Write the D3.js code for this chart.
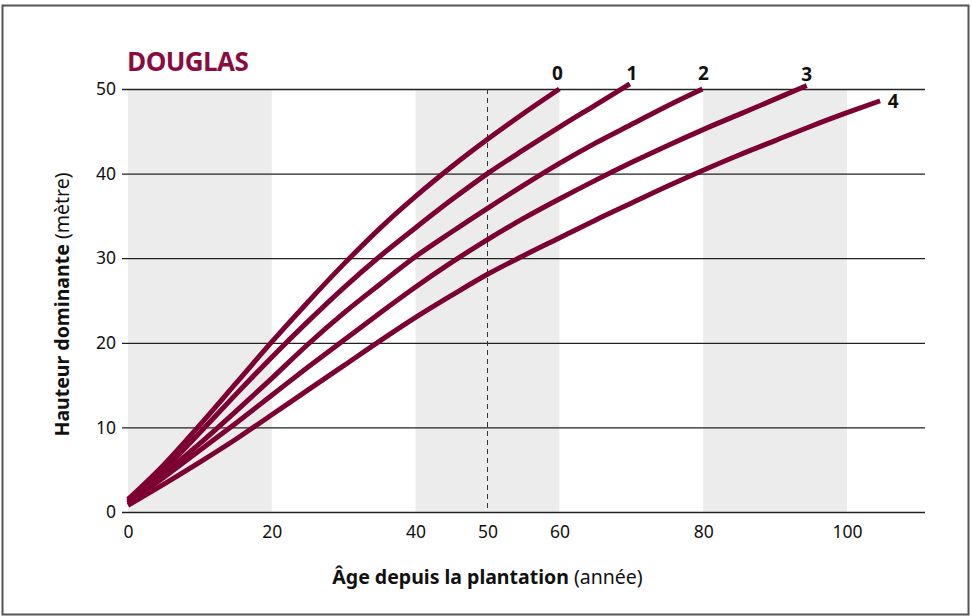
<!DOCTYPE html>
<html>
<head>
<meta charset="utf-8">
<script src="https://cdn.jsdelivr.net/npm/d3@7/dist/d3.min.js"></script>
<style>
  body { margin: 0; background: #fff; }
  svg { font-family: "Noto Sans", "Open Sans", sans-serif; }
</style>
</head>
<body>
<div id="chart"></div>
<script>
// classes de fertilité 0..4, hauteur dominante (m) selon l'âge (années)
var classes = ["0", "1", "2", "3", "4"];

var ages0 = [0, 5, 10, 15, 20, 25, 30, 35, 40, 45, 50, 55, 60];
var haut0 = [1.5, 5.6, 10.3, 15.2, 20.1, 24.8, 29.3, 33.5, 37.3, 40.8, 44.05, 47.1, 50];

var ages1 = [0, 5, 10, 15, 20, 25, 30, 35, 40, 45, 50, 55, 60, 65, 69.8];
var haut1 = [1.3, 5.0, 9.4, 13.9, 18.3, 22.5, 26.5, 30.2, 33.6, 36.9, 40.0, 42.8, 45.5, 48.1, 50.6];

var ages2 = [0, 5, 10, 15, 20, 25, 30, 35, 40, 45, 50, 55, 60, 65, 70, 75, 79.9];
var haut2 = [1.1, 4.5, 8.1, 11.9, 15.8, 19.8, 23.5, 26.9, 30.2, 33.1, 35.9, 38.6, 41.2, 43.6, 45.8, 48.0, 50];

var ages3 = [0, 5, 10, 15, 20, 25, 30, 35, 40, 45, 50, 55, 60, 65, 70, 75, 80, 85, 90, 94.4];
var haut3 = [1.0, 4.1, 7.3, 10.5, 13.8, 17.1, 20.3, 23.5, 26.6, 29.5, 32.2, 34.7, 37.0, 39.2, 41.3, 43.3, 45.2, 47.0, 48.8, 50.4];

var ages4 = [0, 5, 10, 15, 20, 25, 30, 35, 40, 45, 50, 55, 60, 65, 70, 75, 80, 85, 90, 95, 100, 104.6];
var haut4 = [0.8, 3.3, 5.9, 8.6, 11.5, 14.4, 17.3, 20.2, 23.0, 25.6, 28.1, 30.3, 32.4, 34.5, 36.5, 38.5, 40.4, 42.2, 43.9, 45.6, 47.2, 48.6];

var xTicks = [0, 20, 40, 50, 60, 80, 100];
var yTicks = [0, 10, 20, 30, 40, 50];
var bandes = [[0, 20], [40, 60], [80, 100]];
var ageRef = 50;

var series = [
  { nom: classes[0], ages: ages0, haut: haut0 },
  { nom: classes[1], ages: ages1, haut: haut1 },
  { nom: classes[2], ages: ages2, haut: haut2 },
  { nom: classes[3], ages: ages3, haut: haut3 },
  { nom: classes[4], ages: ages4, haut: haut4 }
];

var width = 971, height = 616;
var couleur = "#7d0033";

var svg = d3.select("#chart").append("svg")
            .attr("width", width)
            .attr("height", height);

// cadre
svg.append("rect")
   .attr("x", 2.5).attr("y", 5.5)
   .attr("width", 966).attr("height", 609)
   .attr("fill", "none")
   .attr("stroke", "#555")
   .attr("stroke-width", 2);

var x = d3.scaleLinear().domain([0, 100]).range([128, 847]);
var y = d3.scaleLinear().domain([0, 50]).range([512, 89]);
var xFin = 925;

// bandes grises
svg.selectAll("rect.bande")
   .data(bandes)
   .enter()
   .append("rect")
   .attr("class", "bande")
   .attr("x", function (d) { return x(d[0]); })
   .attr("y", y(50))
   .attr("width", function (d) { return x(d[1]) - x(d[0]); })
   .attr("height", y(0) - y(50))
   .attr("fill", "#ececec");

// lignes horizontales + graduations y
var yAxis = d3.axisLeft(y)
              .tickValues(yTicks)
              .tickSize(-(xFin - x(0)))
              .tickPadding(12)
              .tickFormat(d3.format("d"));

var gy = svg.append("g")
            .attr("transform", "translate(" + x(0) + ",0)")
            .call(yAxis);
gy.select(".domain").remove();
gy.selectAll(".tick line")
  .attr("x1", -6)
  .attr("stroke", "#222")
  .attr("stroke-width", 1.3);
gy.selectAll(".tick text")
  .attr("font-size", 17.5)
  .attr("fill", "#111")
  .attr("font-family", "Noto Sans, sans-serif");

// graduations x (sans traits)
var xAxis = d3.axisBottom(x)
              .tickValues(xTicks)
              .tickSize(0)
              .tickPadding(14)
              .tickFormat(d3.format("d"));

var gx = svg.append("g")
            .attr("transform", "translate(0," + y(0) + ")")
            .call(xAxis);
gx.select(".domain").remove();
gx.selectAll(".tick text")
  .attr("font-size", 17.5)
  .attr("fill", "#111")
  .attr("font-family", "Noto Sans, sans-serif");

// ligne verticale pointillée à 50 ans
svg.append("line")
   .attr("x1", x(ageRef)).attr("x2", x(ageRef))
   .attr("y1", y(50)).attr("y2", y(0))
   .attr("stroke", "#333")
   .attr("stroke-width", 1)
   .attr("stroke-dasharray", "5,4");

// courbes
var ligne = d3.line()
              .x(function (d) { return x(d[0]); })
              .y(function (d) { return y(d[1]); })
              .curve(d3.curveMonotoneX);

svg.selectAll("path.courbe")
   .data(series)
   .enter()
   .append("path")
   .attr("class", "courbe")
   .attr("d", function (d) { return ligne(d3.zip(d.ages, d.haut)); })
   .attr("fill", "none")
   .attr("stroke", couleur)
   .attr("stroke-width", 5);

// étiquettes des classes
var decal = [[-2, -9], [2, -4], [1, -9], [0, -5], [13, 7]];
svg.selectAll("text.classe")
   .data(series)
   .enter()
   .append("text")
   .attr("class", "classe")
   .attr("x", function (d, i) { return x(d.ages[d.ages.length - 1]) + decal[i][0]; })
   .attr("y", function (d, i) { return y(d.haut[d.haut.length - 1]) + decal[i][1]; })
   .attr("text-anchor", "middle")
   .attr("font-size", 19)
   .attr("font-weight", "bold")
   .attr("fill", "#111")
   .text(function (d) { return d.nom; });

// titre
svg.append("text")
   .attr("x", 127).attr("y", 71)
   .attr("font-size", 26)
   .attr("font-weight", "bold")
   .attr("fill", "#8a0b3e")
   .attr("font-family", "Open Sans, sans-serif")
   .attr("letter-spacing", -0.6)
   .text("DOUGLAS");

// titre axe x
var tx = svg.append("text")
            .attr("x", x(50)).attr("y", 584)
            .attr("text-anchor", "middle")
            .attr("font-size", 19.5)
            .attr("fill", "#111");
tx.append("tspan").attr("font-weight", "bold").text("Âge depuis la plantation");
tx.append("tspan").text(" (année)");

// titre axe y
var ty = svg.append("text")
            .attr("transform", "translate(69," + (y(25) + 4) + ") rotate(-90)")
            .attr("text-anchor", "middle")
            .attr("font-size", 19.5)
            .attr("fill", "#111");
ty.append("tspan").attr("font-weight", "bold").text("Hauteur dominante");
ty.append("tspan").text(" (mètre)");
</script>
</body>
</html>
